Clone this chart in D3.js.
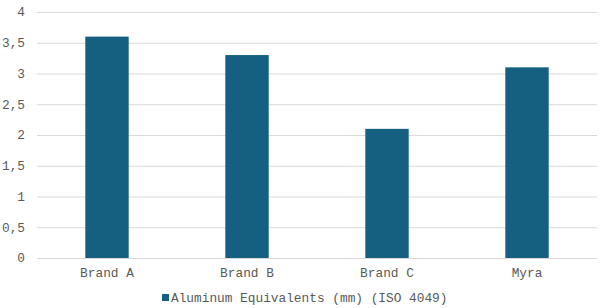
<!DOCTYPE html>
<html>
<head>
<meta charset="utf-8">
<script src="https://cdn.jsdelivr.net/npm/d3@7"></script>
<style>
  body { margin: 0; background: #fff; }
  svg { display: block; font-family: "Liberation Mono", "Courier New", monospace; }
</style>
</head>
<body>
<div id="chart"></div>
<script>
const categories = ['Brand A', 'Brand B', 'Brand C', 'Myra'];
const values = [3.6, 3.3, 2.1, 3.1];
const yTicks = [0, 0.5, 1, 1.5, 2, 2.5, 3, 3.5, 4];
const seriesName = 'Aluminum Equivalents (mm) (ISO 4049)';

const width = 600, height = 308;
const margin = {top: 12, right: 3, bottom: 50, left: 37};
const color = '#155f81';
const fmt = d => String(d).replace('.', ',');

const svg = d3.select('#chart').append('svg')
  .attr('width', width)
  .attr('height', height);

const x = d3.scaleBand()
  .domain(categories)
  .range([margin.left, width - margin.right])
  .paddingInner(0.69)
  .paddingOuter(0.345);

const y = d3.scaleLinear()
  .domain([0, 4])
  .range([height - margin.bottom, margin.top]);

// gridlines
svg.append('g')
  .selectAll('line')
  .data(yTicks)
  .join('line')
    .attr('x1', margin.left)
    .attr('x2', width - margin.right)
    .attr('y1', d => y(d) + 0.5)
    .attr('y2', d => y(d) + 0.5)
    .attr('stroke', '#d9d9d9')
    .attr('stroke-width', 1);

// y labels
svg.append('g')
  .attr('font-size', 12.8)
  .attr('fill', '#595959')
  .attr('text-anchor', 'end')
  .selectAll('text')
  .data(yTicks)
  .join('text')
    .attr('x', 25)
    .attr('y', d => y(d))
    .attr('dy', '0.35em')
    .text(fmt);

// bars
svg.append('g')
  .selectAll('rect')
  .data(values)
  .join('rect')
    .attr('x', (d, i) => x(categories[i]))
    .attr('y', d => y(d))
    .attr('width', x.bandwidth())
    .attr('height', d => y(0) - y(d))
    .attr('fill', color);

// x labels
svg.append('g')
  .attr('font-size', 12.8)
  .attr('fill', '#595959')
  .attr('text-anchor', 'middle')
  .selectAll('text')
  .data(categories)
  .join('text')
    .attr('x', d => x(d) + x.bandwidth() / 2)
    .attr('y', y(0) + 19)
    .text(d => d);

// legend
const legend = svg.append('g').attr('transform', 'translate(162,302)');
legend.append('rect')
  .attr('x', 0)
  .attr('y', -8)
  .attr('width', 7)
  .attr('height', 7)
  .attr('fill', color);
legend.append('text')
  .attr('x', 9)
  .attr('y', 0)
  .attr('font-size', 12.8)
  .attr('fill', '#595959')
  .text(seriesName);
</script>
</body>
</html>
